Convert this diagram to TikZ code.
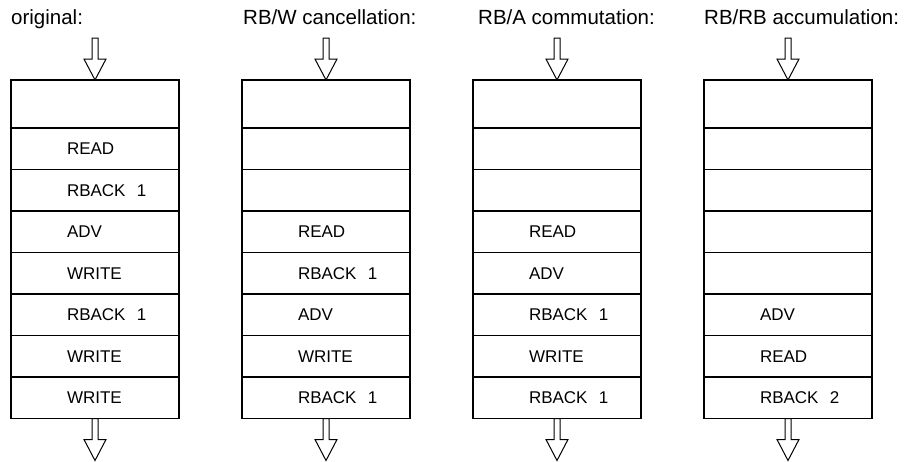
\documentclass[tikz,border=0pt]{standalone}
\usepackage{fontspec}
\setmainfont{Liberation Sans}
\usetikzlibrary{positioning, calc}

\newcommand{\titlefont}{\fontsize{20.5}{24}\selectfont}
\newcommand{\cellfont}{\fontsize{17}{20}\selectfont}

% hollow block arrow pointing down, #1 is the top of its shaft
\newcommand{\flowarrow}[1]{%
  \draw[hollow] (#1) ++(-3,0) -- ++(6,0) -- ++(0,21) -- ++(8,0) -- ++(-11,21)
    -- ++(-11,-21) -- ++(8,0) -- cycle;}

\begin{document}
\begin{tikzpicture}[x=1pt, y=-1pt,
    every node/.style={font=\cellfont},
    title/.style={anchor=base west, inner sep=0pt, font=\titlefont},
    cell/.style={draw, line width=1.2pt, rectangle, minimum height=41.5pt,
      text width=168pt, inner xsep=0pt, inner ysep=0pt, outer sep=0pt, align=left,
      execute at begin node={\hspace*{56pt}}},
    topcell/.style={cell, minimum height=48pt},
    hollow/.style={draw, fill=white, line width=1pt, line join=miter}]
    \useasboundingbox (0,0) rectangle (907,461);

    % Titles
    \node[title] (t1) at (11,24) {original:};
    \node[title] (t2) at (243,24) {RB/W cancellation:};
    \node[title] (t3) at (478,24) {RB/A commutation:};
    \node[title] (t4) at (704,24) {RB/RB accumulation:};

    % original
    \node[topcell, anchor=north west] (o0) at (11,80) {};
    \node[cell, below=0pt of o0] (o1) {READ};
    \node[cell, below=0pt of o1] (o2) {RBACK\ \ 1};
    \node[cell, below=0pt of o2] (o3) {ADV};
    \node[cell, below=0pt of o3] (o4) {WRITE};
    \node[cell, below=0pt of o4] (o5) {RBACK\ \ 1};
    \node[cell, below=0pt of o5] (o6) {WRITE};
    \node[cell, below=0pt of o6] (o7) {WRITE};

    % RB/W cancellation
    \node[topcell, anchor=north west] (w0) at (242,80) {};
    \node[cell, below=0pt of w0] (w1) {};
    \node[cell, below=0pt of w1] (w2) {};
    \node[cell, below=0pt of w2] (w3) {READ};
    \node[cell, below=0pt of w3] (w4) {RBACK\ \ 1};
    \node[cell, below=0pt of w4] (w5) {ADV};
    \node[cell, below=0pt of w5] (w6) {WRITE};
    \node[cell, below=0pt of w6] (w7) {RBACK\ \ 1};

    % RB/A commutation
    \node[topcell, anchor=north west] (c0) at (473,80) {};
    \node[cell, below=0pt of c0] (c1) {};
    \node[cell, below=0pt of c1] (c2) {};
    \node[cell, below=0pt of c2] (c3) {READ};
    \node[cell, below=0pt of c3] (c4) {ADV};
    \node[cell, below=0pt of c4] (c5) {RBACK\ \ 1};
    \node[cell, below=0pt of c5] (c6) {WRITE};
    \node[cell, below=0pt of c6] (c7) {RBACK\ \ 1};

    % RB/RB accumulation
    \node[topcell, anchor=north west] (r0) at (704,80) {};
    \node[cell, below=0pt of r0] (r1) {};
    \node[cell, below=0pt of r1] (r2) {};
    \node[cell, below=0pt of r2] (r3) {};
    \node[cell, below=0pt of r3] (r4) {};
    \node[cell, below=0pt of r4] (r5) {ADV};
    \node[cell, below=0pt of r5] (r6) {READ};
    \node[cell, below=0pt of r6] (r7) {RBACK\ \ 2};

    % Arrows in and out
    \foreach \col in {o, w, c, r} {
        \coordinate (\col in) at ($(\col0.north)+(0,-42)$);
        \flowarrow{\col in}
        \flowarrow{\col7.south}
    }
\end{tikzpicture}
\end{document}
